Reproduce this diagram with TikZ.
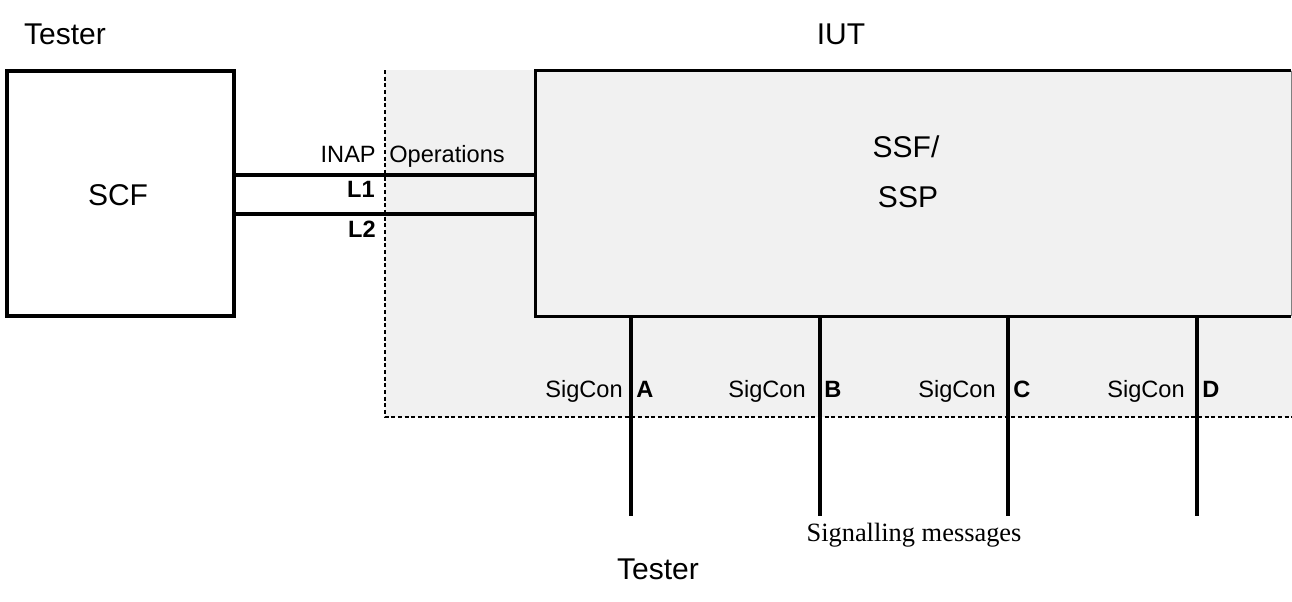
\documentclass[tikz,border=0pt]{standalone}
\usepackage{fontspec}
\setmainfont{Liberation Sans}
\newfontfamily\timesfont{Liberation Serif}
\definecolor{iutgray}{HTML}{F1F1F1}
\begin{document}
\begin{tikzpicture}[x=0.75pt,y=-0.75pt,
  big/.style={font=\fontsize{22.5}{27}\selectfont, inner sep=0pt},
  small/.style={font=\fontsize{17.7}{21}\selectfont, inner sep=0pt},
  smallbold/.style={font=\fontsize{17.7}{21}\selectfont\bfseries, inner sep=0pt},
  serifnote/.style={font=\fontsize{19.8}{24}\selectfont\timesfont, inner sep=0pt},
  heavy/.style={line width=2.6pt},
  boundary/.style={line width=2.1pt, dash pattern=on 3pt off 2pt},
  funcbox/.style={draw, heavy, inner sep=0pt, minimum width=170.25pt, minimum height=183.75pt}]
\useasboundingbox (0,0) rectangle (1292,601);

% IUT shaded area with dashed boundary
\fill[iutgray] (385,70) rectangle (1292,417);
\coordinate (iutTL) at (385,70);
\coordinate (iutBL) at (385,417);
\coordinate (iutBR) at (1292,417);
\draw[boundary] (iutTL) -- (iutBL) -- (iutBR);

% SCF box
\node[funcbox, big] (scf) at (120.5,193.5) {};
\node[big, anchor=base] (scflabel) at (118,205) {SCF};

% SSF/SSP box
\node[inner sep=0pt, minimum width=566.25pt, minimum height=183.75pt] (ssf) at (913.5,193.5) {};
\draw[heavy] (ssf.north east) -- (ssf.north west) -- (ssf.south west) -- (ssf.south east);
\draw[line width=0.6pt, gray] (ssf.north east) -- (ssf.south east);
\node[big, anchor=base] (ssflabel) at (906,157) {SSF/};
\node[big, anchor=base] (ssplabel) at (908,207) {SSP};

% L1, L2 links
\coordinate (l1) at (0,175);
\coordinate (l2) at (0,214);
\draw[heavy] (scf.east |- l1) -- (ssf.west |- l1);
\draw[heavy] (scf.east |- l2) -- (ssf.west |- l2);
\node[small, anchor=base east] (inap) at (376,162) {INAP};
\node[small, anchor=base west] (ops) at (389,162) {Operations};
\node[smallbold, anchor=base east] (l1label) at (375,197) {L1};
\node[smallbold, anchor=base east] (l2label) at (376,237) {L2};

% signalling connections
\coordinate (ea) at (631,516);
\coordinate (eb) at (820,516);
\coordinate (ec) at (1008,516);
\coordinate (ed) at (1197,516);
\draw[heavy] (ssf.south -| ea) -- (ea);
\draw[heavy] (ssf.south -| eb) -- (eb);
\draw[heavy] (ssf.south -| ec) -- (ec);
\draw[heavy] (ssf.south -| ed) -- (ed);

\node[small, anchor=base east] (sa) at (623,397) {SigCon};
\node[smallbold, anchor=base west] (la) at (636,397) {A};
\node[small, anchor=base east] (sb) at (806,397) {SigCon};
\node[smallbold, anchor=base west] (lb) at (824,397) {B};
\node[small, anchor=base east] (sc) at (996,397) {SigCon};
\node[smallbold, anchor=base west] (lc) at (1013,397) {C};
\node[small, anchor=base east] (sd) at (1185,397) {SigCon};
\node[smallbold, anchor=base west] (ld) at (1202,397) {D};

\node[serifnote, anchor=base] (sig) at (914,541) {Signalling messages};

% headings
\node[big, anchor=base] (testerTop) at (65,44) {Tester};
\node[big, anchor=base] (iut) at (841,44) {IUT};
\node[big, anchor=base] (testerBot) at (658,579) {Tester};
\end{tikzpicture}
\end{document}
